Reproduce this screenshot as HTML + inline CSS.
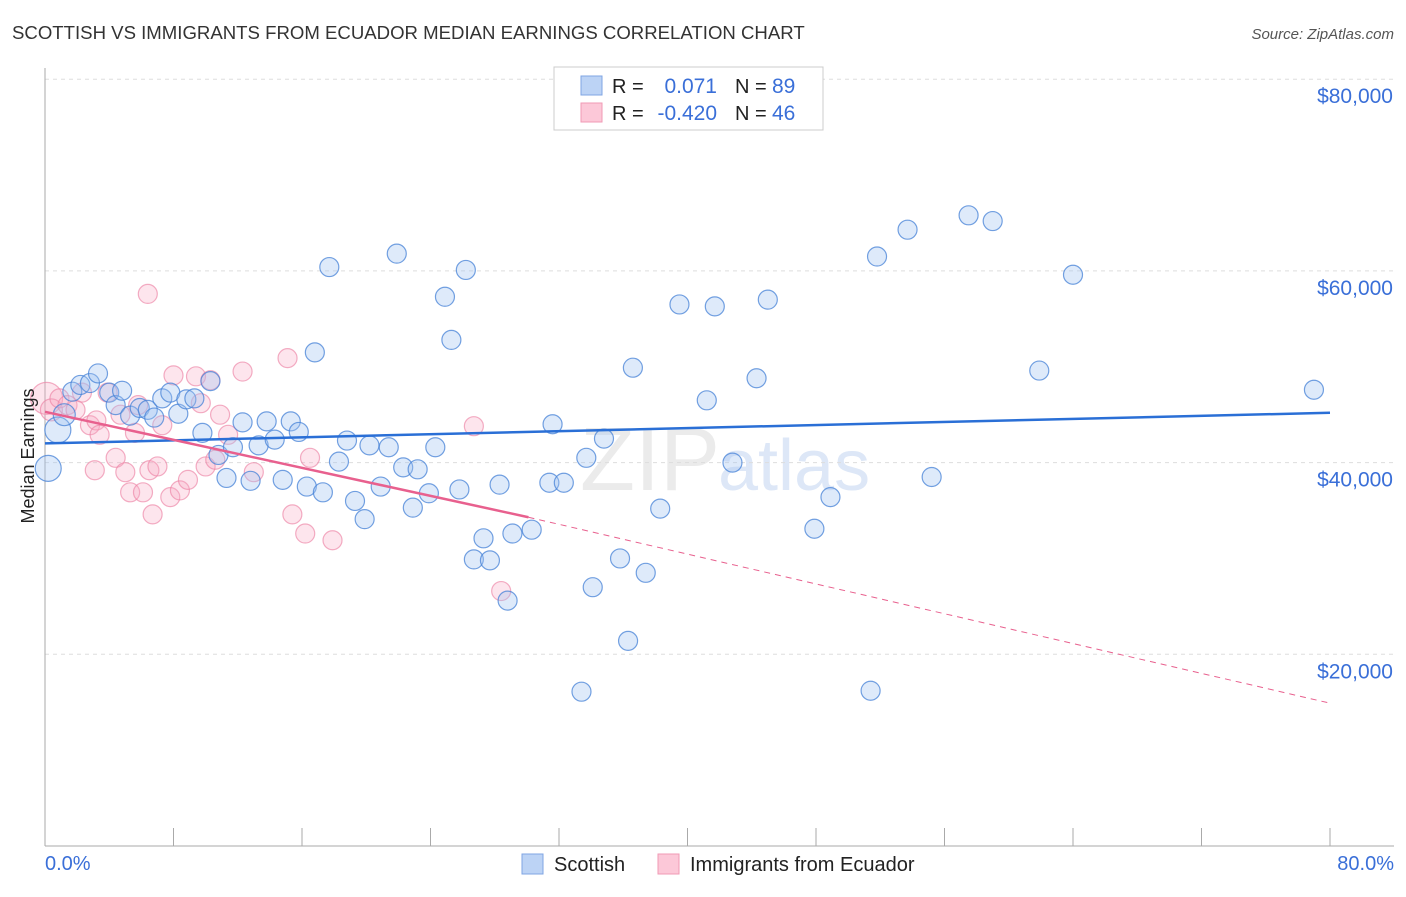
<!DOCTYPE html>
<html><head><meta charset="utf-8"><style>
body{margin:0;background:#fff;width:1406px;height:892px;overflow:hidden;font-family:"Liberation Sans",sans-serif;}
svg text{font-family:"Liberation Sans",sans-serif;}
</style></head><body>
<svg id="chart" width="1406" height="892">
<text x="12" y="39" font-size="18.6" fill="#333">SCOTTISH VS IMMIGRANTS FROM ECUADOR MEDIAN EARNINGS CORRELATION CHART</text>
<text x="1394" y="39" font-size="15" fill="#555" text-anchor="end" font-style="italic">Source: ZipAtlas.com</text>
<text x="720" y="490" font-size="90" fill="#ebebeb" text-anchor="end" font-family="Liberation Serif">ZIP</text>
<text x="718" y="490" font-size="72" fill="#dde7f7">atlas</text>
<g id="grid"></g>
<g id="axes"></g>
<g id="marks"></g>
<text transform="translate(34,456) rotate(-90)" font-size="18" fill="#222" text-anchor="middle">Median Earnings</text>
<text x="45" y="870" font-size="20" fill="#3a6fd8">0.0%</text>
<text x="1394" y="870" font-size="20" fill="#3a6fd8" text-anchor="end">80.0%</text>
<g>
<rect x="554" y="67" width="269" height="63" fill="#fff" stroke="#ccc"/>
<rect x="581" y="76" width="21" height="19" fill="#bcd3f5" stroke="#7fa5e3"/>
<rect x="581" y="103" width="21" height="19" fill="#fcc8d8" stroke="#f09ab5"/>
<text x="612" y="93" font-size="20" fill="#222">R =</text>
<text x="717" y="93" font-size="21" fill="#3a6fd8" text-anchor="end">0.071</text>
<text x="735" y="93" font-size="20" fill="#222">N =</text>
<text x="772" y="93" font-size="21" fill="#3a6fd8">89</text>
<text x="612" y="120" font-size="20" fill="#222">R =</text>
<text x="717" y="120" font-size="21" fill="#3a6fd8" text-anchor="end">-0.420</text>
<text x="735" y="120" font-size="20" fill="#222">N =</text>
<text x="772" y="120" font-size="21" fill="#3a6fd8">46</text>
</g>
<g>
<rect x="522" y="854" width="21" height="20" fill="#bcd3f5" stroke="#7fa5e3"/>
<text x="554" y="871" font-size="20" fill="#222">Scottish</text>
<rect x="658" y="854" width="21" height="20" fill="#fcc8d8" stroke="#f09ab5"/>
<text x="690" y="871" font-size="20" fill="#222">Immigrants from Ecuador</text>
</g>
</svg>
<script>
const yTicks=[20000,40000,60000,80000];
const yTickLabels=["$20,000","$40,000","$60,000","$80,000"];
const xTicks=[0,8,16,24,32,40,48,56,64,72,80];
const blueX=[0.2,0.8,1.2,1.7,2.2,2.8,3.3,4.0,4.4,4.8,5.3,5.9,6.4,6.8,7.3,7.8,8.3,8.8,9.3,9.8,10.3,10.8,11.3,11.7,12.3,12.8,13.3,13.8,14.3,14.8,15.3,15.8,16.3,16.8,17.3,17.7,18.3,18.8,19.3,19.9,20.2,20.9,21.4,21.9,22.3,22.9,23.2,23.9,24.3,24.9,25.3,25.8,26.2,26.7,27.3,27.7,28.3,28.8,29.1,30.3,31.4,31.6,32.3,33.4,33.7,34.1,34.8,35.8,36.3,36.6,37.4,38.3,39.5,41.2,41.7,42.8,44.3,45.0,47.9,48.9,51.4,51.8,53.7,55.2,57.5,59.0,61.9,64.0,79.0];
const blueY=[39.4,43.4,45.0,47.4,48.1,48.3,49.3,47.3,46.0,47.5,44.9,45.7,45.5,44.7,46.7,47.3,45.1,46.6,46.7,43.1,48.5,40.8,38.4,41.6,44.2,38.1,41.8,44.3,42.4,38.2,44.3,43.2,37.5,51.5,36.9,60.4,40.1,42.3,36.0,34.1,41.8,37.5,41.6,61.8,39.5,35.3,39.3,36.8,41.6,57.3,52.8,37.2,60.1,29.9,32.1,29.8,37.7,25.6,32.6,33.0,37.9,44.0,37.9,16.1,40.5,27.0,42.5,30.0,21.4,49.9,28.5,35.2,56.5,46.5,56.3,40.0,48.8,57.0,33.1,36.4,16.2,61.5,64.3,38.5,65.8,65.2,49.6,59.6,47.6];
const pinkX=[0.1,0.4,0.9,1.4,1.9,2.3,2.8,3.2,3.4,3.1,3.9,4.4,4.7,5.0,5.3,5.6,5.8,6.1,6.5,6.7,6.4,7.0,7.3,7.8,8.0,8.4,8.9,9.4,9.7,10.0,10.3,10.6,10.9,11.4,12.3,13.0,15.1,15.4,16.2,16.5,17.9,26.7,28.4];
const pinkY=[46.7,45.5,46.7,46.0,45.5,47.3,43.9,44.4,42.9,39.2,47.3,40.5,45.0,39.0,36.9,43.1,46.0,36.9,39.2,34.6,57.6,39.6,43.9,36.4,49.1,37.1,38.2,49.0,46.2,39.6,48.6,40.3,45.0,42.9,49.5,39.0,50.9,34.6,32.6,40.5,31.9,43.8,26.6];
const blueTrend=[[0,42.0],[80,45.2]];
const pinkTrend=[[0,45.3],[30.1,34.3],[80,14.9]];
const NS="http://www.w3.org/2000/svg";
const X=v=>45+v/80*1285;
const Y=v=>846-v/20000*191.7;
const Yk=v=>Y(v*1000);
function mk(t,a,p){const e=document.createElementNS(NS,t);for(const k in a)e.setAttribute(k,a[k]);p.appendChild(e);return e;}
const grid=document.getElementById('grid'),axes=document.getElementById('axes'),marks=document.getElementById('marks');
yTicks.forEach((v,i)=>{
 const l=mk('line',{x1:45,x2:1394,y1:Y(v),y2:Y(v),stroke:'#ddd','stroke-dasharray':'4,4'},grid);
 
 
 const t=mk('text',{x:1393,y:Y(v)+24,'font-size':21,fill:'#3a6fd8','text-anchor':'end'},grid);
 t.textContent=yTickLabels[i];
 
 
});
const ya=mk('line',{x1:45,x2:45,y1:68,y2:846,stroke:'#aaa'},axes);


const xa=mk('line',{x1:45,x2:1394,y1:846,y2:846,stroke:'#aaa'},axes);


xTicks.forEach(v=>{
 const t=mk('line',{x1:X(v),x2:X(v),y1:828,y2:846,stroke:'#aaa'},axes);
 
 
});
function dots(xs,ys,fill,stroke,name,big){
 xs.forEach((x,i)=>{
  const r=big[i]||9.5;
  const c=mk('circle',{cx:X(x),cy:Yk(ys[i]),r:r,fill:fill,stroke:stroke,'stroke-width':1.2},marks);
  
  
 });
}
dots(pinkX,pinkY,'rgba(248,170,195,0.3)','rgba(236,130,165,0.65)','ecuador-point',{0:16,1:11});
dots(blueX,blueY,'rgba(160,195,240,0.35)','rgba(70,130,215,0.75)','scottish-point',{0:13,1:13,2:11});
const bt=mk('line',{x1:X(blueTrend[0][0]),y1:Yk(blueTrend[0][1]),x2:X(blueTrend[1][0]),y2:Yk(blueTrend[1][1]),stroke:'#2a6fd6','stroke-width':2.5},marks);


const pt=mk('line',{x1:X(pinkTrend[0][0]),y1:Yk(pinkTrend[0][1]),x2:X(pinkTrend[1][0]),y2:Yk(pinkTrend[1][1]),stroke:'#e8608e','stroke-width':2.5},marks);


const pd=mk('line',{x1:X(pinkTrend[1][0]),y1:Yk(pinkTrend[1][1]),x2:X(pinkTrend[2][0]),y2:Yk(pinkTrend[2][1]),stroke:'#e8608e','stroke-width':1,'stroke-dasharray':'6,5'},marks);


</script>
</body></html>
